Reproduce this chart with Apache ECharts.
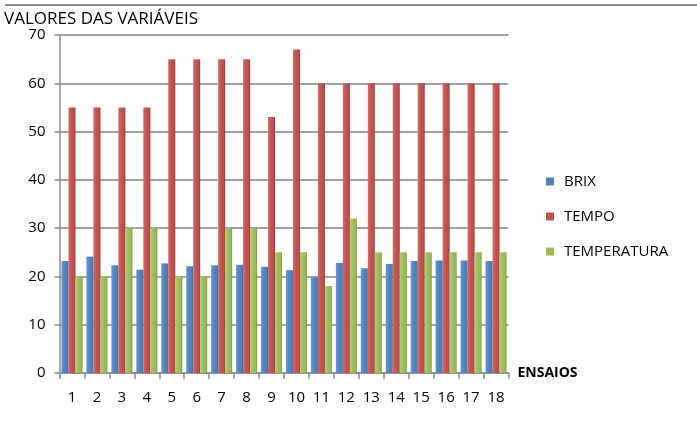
<!DOCTYPE html>
<html>
<head>
<meta charset="utf-8">
<script src="https://cdn.jsdelivr.net/npm/echarts@6/dist/echarts.min.js"></script>
<style>
  html, body { margin: 0; padding: 0; background: #ffffff; }
  #chart { width: 697px; height: 421px; }
</style>
</head>
<body>
<div id="chart"></div>
<script>
// Ensaios (runs) on the category axis
const ensaios = ['1','2','3','4','5','6','7','8','9','10','11','12','13','14','15','16','17','18'];

// Measured variables per run
const brix        = [23.2, 24.1, 22.3, 21.4, 22.7, 22.1, 22.3, 22.4, 22.0, 21.3, 19.8, 22.8, 21.7, 22.6, 23.2, 23.3, 23.3, 23.2];
const tempo       = [55, 55, 55, 55, 65, 65, 65, 65, 53, 67, 60, 60, 60, 60, 60, 60, 60, 60];
const temperatura = [20, 20, 30, 30, 20, 20, 30, 30, 25, 25, 18, 32, 25, 25, 25, 25, 25, 25];

// Value axis ticks
const yTicks = [0, 10, 20, 30, 40, 50, 60, 70];

const FONT = '"Open Sans", "Noto Sans", sans-serif';

// Horizontal gradient giving each column a shaded, slightly rounded look
function shade(light, base, dark) {
  return new echarts.graphic.LinearGradient(0, 0, 1, 0, [
    { offset: 0, color: light },
    { offset: 0.55, color: base },
    { offset: 0.8, color: base },
    { offset: 1, color: dark }
  ]);
}

const seriesDefs = [
  { name: 'BRIX', data: brix, legend: '#4f81bd', fill: shade('#6a95cc', '#4f81bd', '#3a6596') },
  { name: 'TEMPO', data: tempo, legend: '#c0504d', fill: shade('#d06a67', '#c0504d', '#8f3532') },
  { name: 'TEMPERATURA', data: temperatura, legend: '#9bbb59', fill: shade('#b2cd78', '#9bbb59', '#76923c') }
];

const chart = echarts.init(document.getElementById('chart'), null, { renderer: 'canvas' });

chart.setOption({
  backgroundColor: '#ffffff',
  animation: false,
  color: seriesDefs.map(s => s.legend),
  title: [{
    text: 'VALORES DAS VARIÁVEIS',
    left: 4,
    top: 11,
    padding: 0,
    textStyle: { fontFamily: FONT, fontSize: 17, fontWeight: 'normal', color: '#000000' }
  }, {
    // thin rule across the top edge of the page
    text: '{rule|}',
    left: 5,
    top: 4,
    padding: 0,
    textStyle: {
      fontSize: 2,
      lineHeight: 2,
      rich: { rule: { width: 692, height: 2, lineHeight: 2, backgroundColor: '#8c8c8c' } }
    }
  }],
  legend: {
    orient: 'vertical',
    left: 546,
    top: 174,
    padding: 0,
    itemWidth: 8,
    itemHeight: 8,
    itemGap: 20,
    icon: 'rect',
    textStyle: { fontFamily: FONT, fontSize: 15, color: '#000000', padding: [0, 0, 0, 5] },
    data: seriesDefs.map(s => ({ name: s.name, itemStyle: { color: s.legend } }))
  },
  grid: { left: 59.5, right: 188.5, top: 35, bottom: 48, containLabel: false },
  xAxis: {
    type: 'category',
    data: ensaios,
    name: 'ENSAIOS',
    nameLocation: 'end',
    nameGap: 9,
    nameTextStyle: { fontFamily: FONT, fontSize: 14, fontWeight: 'bold', color: '#000000', verticalAlign: 'middle' },
    axisLine: { lineStyle: { color: '#8c8c8c', width: 1.5 } },
    axisTick: { show: true, alignWithLabel: false, length: 6, lineStyle: { color: '#8c8c8c', width: 1.5 } },
    axisLabel: { fontFamily: FONT, fontSize: 15, color: '#000000', margin: 17 }
  },
  yAxis: {
    type: 'value',
    min: yTicks[0],
    max: yTicks[yTicks.length - 1],
    interval: 10,
    axisLine: { show: true, lineStyle: { color: '#8c8c8c', width: 1.5 } },
    axisTick: { show: true, length: 5, lineStyle: { color: '#8c8c8c', width: 1.5 } },
    axisLabel: { fontFamily: FONT, fontSize: 15, color: '#000000', margin: 14 },
    splitLine: { lineStyle: { color: '#a3a3a3', width: 2 } }
  },
  series: seriesDefs.map(s => ({
    name: s.name,
    type: 'bar',
    data: s.data,
    barWidth: 7,
    barGap: '0%',
    itemStyle: { color: s.fill }
  }))
});
</script>
</body>
</html>
